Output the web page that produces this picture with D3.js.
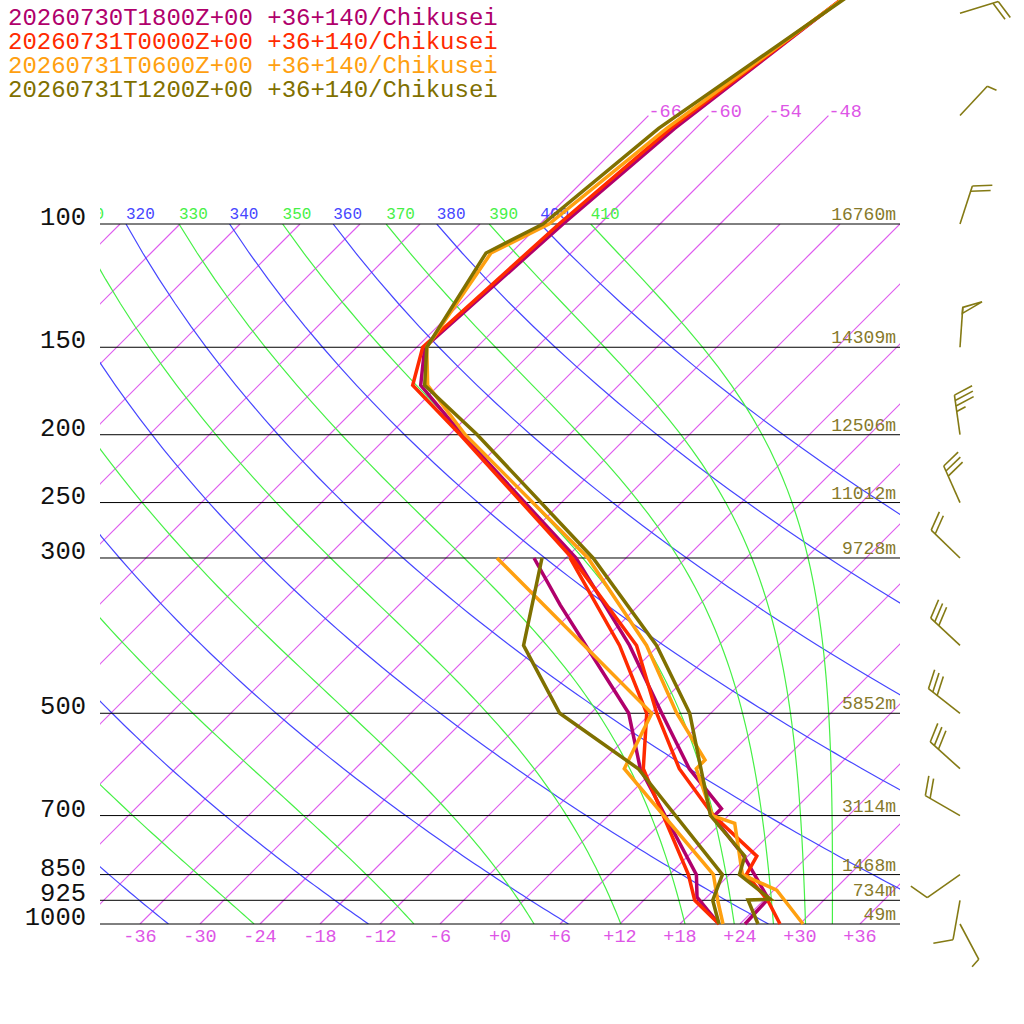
<!DOCTYPE html>
<html>
<head>
<meta charset="utf-8">
<script src="https://cdn.jsdelivr.net/npm/d3@7"></script>
<style>
body { margin: 0; background: #fff; }
svg text { font-family: "Liberation Mono", "DejaVu Sans Mono", monospace; }
</style>
</head>
<body>
<svg id="myGraph" width="1024" height="1024"></svg>
<script>
var svgWidth = 1024;
var svgHeight = 1024;
var plotLeft = 100, plotRight = 900, plotTop = 224, plotBottom = 924;

var legendLabels = [
    "20260730T1800Z+00 +36+140/Chikusei",
    "20260731T0000Z+00 +36+140/Chikusei",
    "20260731T0600Z+00 +36+140/Chikusei",
    "20260731T1200Z+00 +36+140/Chikusei"
];
var lineColors = ["#b0006c", "#ff2a00", "#ffa010", "#7f7000"];
var isoColor = "rgb(222,92,238)";
var dryColor = "rgb(70,70,255)";
var moistColor = "rgb(70,240,70)";

var pressureLevels = [1000, 925, 850, 700, 500, 300, 250, 200, 150, 100];
var pressureLabels = ["1000", "925", "850", "700", "500", "300", "250", "200", "150", "100"];
var heightLabels = ["49m", "734m", "1468m", "3114m", "5852m", "9728m", "11012m", "12506m", "14309m", "16760m"];
var tempTicks = [-36, -30, -24, -18, -12, -6, 0, 6, 12, 18, 24, 30, 36];
var topIsotherms = [-66, -60, -54, -48];
var dryTheta = [240, 260, 280, 300, 320, 340, 360, 380, 400];
var moistThetaE = [250, 270, 290, 310, 330, 350, 370, 390, 410];

// soundings [hPa, degC]
var temp1800 = [[1000,24.5],[920,24.3],[800,17.6],[703,10.6],[684,10.6],[600,3.4],[500,-4.9],[400,-14.9],[300,-29.0],[200,-52.7],[170,-61.8],[150,-65.2],[100,-63.7],[73,-62.1],[45,-57.8]];
var dew1800 = [[1000,21.9],[915,17.0],[850,14.7],[600,-1.5],[500,-8.2],[350,-25.9],[300,-33.2]];
var temp0000 = [[1000,28.0],[925,24.4],[850,19.7],[800,18.9],[700,10.5],[600,2.4],[500,-5.4],[400,-14.2],[300,-29.4],[200,-52.9],[170,-62.6],[150,-65.4],[100,-64.1],[73,-62.5],[45,-57.7]];
var dew0000 = [[1000,21.9],[925,17.1],[850,13.9],[600,-1.2],[500,-6.4],[400,-15.9],[300,-29.6]];
var temp0600 = [[1000,30.3],[895,24.3],[850,19.3],[718,13.4],[700,10.4],[600,4.1],[583,4.1],[500,-3.4],[400,-13.2],[300,-27.8],[200,-52.4],[170,-61.1],[150,-65.0],[110,-68.0],[100,-65.1],[73,-62.9],[45,-57.6]];
var dew0600 = [[1000,22.3],[925,19.4],[850,16.4],[600,-3.1],[500,-5.9],[300,-36.9]];
var temp1200 = [[1000,25.8],[924,22.4],[922,24.6],[850,19.0],[800,17.7],[700,10.2],[500,-2.1],[400,-12.2],[300,-27.3],[200,-51.2],[170,-61.4],[150,-65.0],[110,-68.5],[100,-65.7],[73,-63.7],[45,-57.3]];
var dew1200 = [[1000,21.9],[925,18.9],[850,17.3],[600,-1.7],[500,-15.1],[400,-25.5],[300,-32.4]];

// wind of the last run (1200Z)
var windLevels = [1000, 925, 850, 700, 600, 500, 400, 300, 250, 200, 150, 100, 70, 50];
var windDir = [152, 190, 235, 300, 312, 308, 313, 314, 336, 352, 4, 18, 43, 73];
var windSpeed = [5, 10, 10, 20, 30, 30, 30, 20, 30, 35, 50, 20, 5, 20];

var soundings = [[temp1800, dew1800], [temp0000, dew0000], [temp0600, dew0600], [temp1200, dew1200]];

var svg = d3.select("#myGraph");

var yScale = d3.scaleLog().domain([1000, 100]).range([plotBottom, plotTop]);
var xScale = d3.scaleLinear().domain([-40, 40]).range([plotLeft, plotRight]);

function skewX(t, p){
    return xScale(t) + (plotBottom - yScale(p));
}

var defs = svg.append("defs");
defs.append("clipPath").attr("id", "plotClip")
    .append("rect").attr("x", plotLeft).attr("y", plotTop)
    .attr("width", plotRight - plotLeft).attr("height", plotBottom - plotTop);
defs.append("clipPath").attr("id", "labelClip")
    .append("rect").attr("x", plotLeft).attr("y", 0)
    .attr("width", plotRight - plotLeft).attr("height", plotBottom);

var pSteps = d3.range(1000, 99, -10);

var line = d3.line()
    .x(d => skewX(d[1], d[0]))
    .y(d => yScale(d[0]));

var grid = svg.append("g").attr("clip-path", "url(#plotClip)");

// isotherms
var isoTemps = d3.range(-150, 40, 6);
var isoGroup = grid.append("g")
    .attr("fill", "none")
    .attr("stroke", isoColor)
    .attr("stroke-width", 1.2);
isoGroup.selectAll("line")
    .data(isoTemps)
    .enter()
    .append("line")
    .attr("x1", d => skewX(d, 1000))
    .attr("y1", yScale(1000))
    .attr("x2", d => skewX(d, 100))
    .attr("y2", yScale(100));

var isoTopGroup = svg.append("g")
    .attr("fill", "none")
    .attr("stroke", isoColor)
    .attr("stroke-width", 1.2);
isoTopGroup.selectAll("line")
    .data(topIsotherms)
    .enter()
    .append("line")
    .attr("x1", d => skewX(d, 100))
    .attr("y1", yScale(100))
    .attr("x2", d => skewX(d, 70))
    .attr("y2", yScale(70));

svg.selectAll("text.isoTop")
    .data(topIsotherms)
    .enter()
    .append("text")
    .attr("class", "isoTop")
    .attr("x", d => skewX(d, 70))
    .attr("y", yScale(70) + 1)
    .attr("font-size", 18.5)
    .attr("fill", "#dd55e6")
    .text(d => "-" + Math.abs(d));

// dry adiabats
function dryLine(theta){
    return pSteps.map(p => [p, theta * Math.pow(p / 1000, 0.2857) - 273.15]);
}
var dryGroup = grid.append("g")
    .attr("fill", "none")
    .attr("stroke", dryColor)
    .attr("stroke-width", 1.2);
dryGroup.selectAll("path")
    .data(dryTheta)
    .enter()
    .append("path")
    .attr("d", d => line(dryLine(d)));

// pseudo adiabats (Bolton theta-e)
function thetaE(tc, p){
    var es = 6.112 * Math.exp(17.67 * tc / (tc + 243.5));
    var r = 622 * es / (p - es);
    var tk = tc + 273.15;
    return tk * Math.pow(1000 / p, 0.2854 * (1 - 0.00028 * r)) *
        Math.exp((3.376 / tk - 0.00254) * r * (1 + 0.00081 * r));
}
function tempOnThetaE(te, p){
    var lo = -150, hi = 40;
    for (var i = 0; i < 50; i++){
        var mid = (lo + hi) / 2;
        if (thetaE(mid, p) > te) hi = mid; else lo = mid;
    }
    return (lo + hi) / 2;
}
function moistLine(te){
    return pSteps.map(p => [p, tempOnThetaE(te, p)]);
}
var moistGroup = grid.append("g")
    .attr("fill", "none")
    .attr("stroke", moistColor)
    .attr("stroke-width", 1.2);
moistGroup.selectAll("path")
    .data(moistThetaE)
    .enter()
    .append("path")
    .attr("d", d => line(moistLine(d)));

// theta labels at 100 hPa
var thetaLabels = svg.append("g").attr("clip-path", "url(#labelClip)");
thetaLabels.selectAll("text.dry")
    .data(dryTheta)
    .enter()
    .append("text")
    .attr("class", "dry")
    .attr("x", d => skewX(d * Math.pow(0.1, 0.2857) - 273.15, 100))
    .attr("y", yScale(100) - 5)
    .attr("font-size", 16)
    .attr("fill", dryColor)
    .text(d => d);
thetaLabels.selectAll("text.moist")
    .data(moistThetaE)
    .enter()
    .append("text")
    .attr("class", "moist")
    .attr("x", d => skewX(tempOnThetaE(d, 100), 100))
    .attr("y", yScale(100) - 5)
    .attr("font-size", 16)
    .attr("fill", moistColor)
    .text(d => d);

// pressure lines
svg.selectAll("line.plev")
    .data(pressureLevels)
    .enter()
    .append("line")
    .attr("class", "plev")
    .attr("x1", plotLeft)
    .attr("x2", plotRight)
    .attr("y1", d => yScale(d))
    .attr("y2", d => yScale(d))
    .style("stroke", "#000")
    .style("stroke-width", 1);

svg.selectAll("text.plev")
    .data(pressureLevels)
    .enter()
    .append("text")
    .attr("class", "plev")
    .attr("x", 86)
    .attr("y", d => yScale(d) + 1)
    .attr("text-anchor", "end")
    .attr("font-size", 25.5)
    .attr("fill", "#111")
    .text((d, i) => pressureLabels[i]);

svg.selectAll("text.hgt")
    .data(pressureLevels)
    .enter()
    .append("text")
    .attr("class", "hgt")
    .attr("x", 896)
    .attr("y", d => yScale(d) - 4)
    .attr("text-anchor", "end")
    .attr("font-size", 18)
    .attr("fill", "#86792a")
    .text((d, i) => heightLabels[i]);

svg.selectAll("text.tick")
    .data(tempTicks)
    .enter()
    .append("text")
    .attr("class", "tick")
    .attr("x", d => xScale(d))
    .attr("y", 942)
    .attr("text-anchor", "middle")
    .attr("font-size", 18.5)
    .attr("fill", "#dd55e6")
    .text(d => (d < 0 ? "-" : "+") + Math.abs(d));

// soundings
soundings.forEach(function(s, i){
    s.forEach(function(prof){
        svg.append("path")
            .attr("d", line(prof))
            .style("fill", "none")
            .style("stroke", lineColors[i])
            .style("stroke-width", 3.5);
    });
});

// legend
svg.selectAll("text.legend")
    .data(legendLabels)
    .enter()
    .append("text")
    .attr("class", "legend")
    .attr("x", 8)
    .attr("y", (d, i) => 25 + i * 24)
    .attr("font-size", 24)
    .attr("fill", (d, i) => lineColors[i])
    .text(d => d);

// wind barbs
var barbs = svg.append("g")
    .style("stroke", "#847a14")
    .style("stroke-width", 1.6)
    .style("fill", "none");

function drawBarb(x0, y0, dir, speed){
    var rad = dir * Math.PI / 180;
    var ux = Math.sin(rad), uy = -Math.cos(rad);
    var staff = 40;
    var tx = x0 + staff * ux, ty = y0 + staff * uy;
    barbs.append("line")
        .attr("x1", x0).attr("y1", y0)
        .attr("x2", tx).attr("y2", ty);
    var ang = Math.atan2(uy, ux) + 70 * Math.PI / 180;
    var bx = Math.cos(ang), by = Math.sin(ang);
    var s = speed, pos = 0;
    while (s >= 50){
        var px = tx - pos * ux, py = ty - pos * uy;
        barbs.append("path")
            .attr("d", "M" + px + "," + py + "L" + (px + 20 * bx) + "," + (py + 20 * by) +
                "L" + (px - 6 * ux) + "," + (py - 6 * uy) + "Z");
        pos += 8;
        s -= 50;
    }
    while (s >= 10){
        var qx = tx - pos * ux, qy = ty - pos * uy;
        barbs.append("line")
            .attr("x1", qx).attr("y1", qy)
            .attr("x2", qx + 20 * bx).attr("y2", qy + 20 * by);
        pos += 5.5;
        s -= 10;
    }
    if (s >= 5){
        var hx = tx - pos * ux, hy = ty - pos * uy;
        barbs.append("line")
            .attr("x1", hx).attr("y1", hy)
            .attr("x2", hx + 10 * bx).attr("y2", hy + 10 * by);
    }
}

windLevels.forEach(function(p, i){
    drawBarb(960, yScale(p), windDir[i], windSpeed[i]);
});
</script>
</body>
</html>
